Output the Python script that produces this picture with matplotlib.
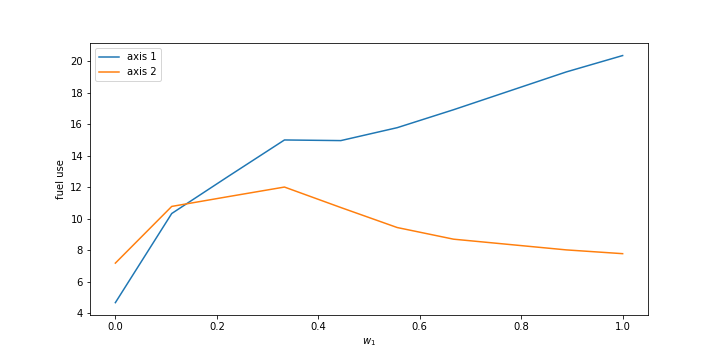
import matplotlib
matplotlib.use('Agg')
import matplotlib.pyplot as plt
import numpy as np

# weight values
w1 = [0.0, 1/9, 2/9, 3/9, 4/9, 5/9, 6/9, 7/9, 8/9, 1.0]
# fuel use per axis
axis1 = [4.67, 10.33, 12.68, 15.0, 14.96, 15.78, 16.92, 18.12, 19.32, 20.36]
axis2 = [7.18, 10.78, 11.4, 12.01, 10.71, 9.44, 8.70, 8.36, 8.02, 7.78]

fig = plt.figure(figsize=(10, 5), dpi=72)
fig.subplots_adjust(bottom=0.125)
ax = fig.add_subplot(1, 1, 1)
ax.plot(w1, axis1, label='axis 1')
ax.plot(w1, axis2, label='axis 2')
ax.set_xlabel('$w_1$')
ax.set_ylabel('fuel use')
ax.legend(loc='upper left')
fig.savefig('out.png', dpi=72)
